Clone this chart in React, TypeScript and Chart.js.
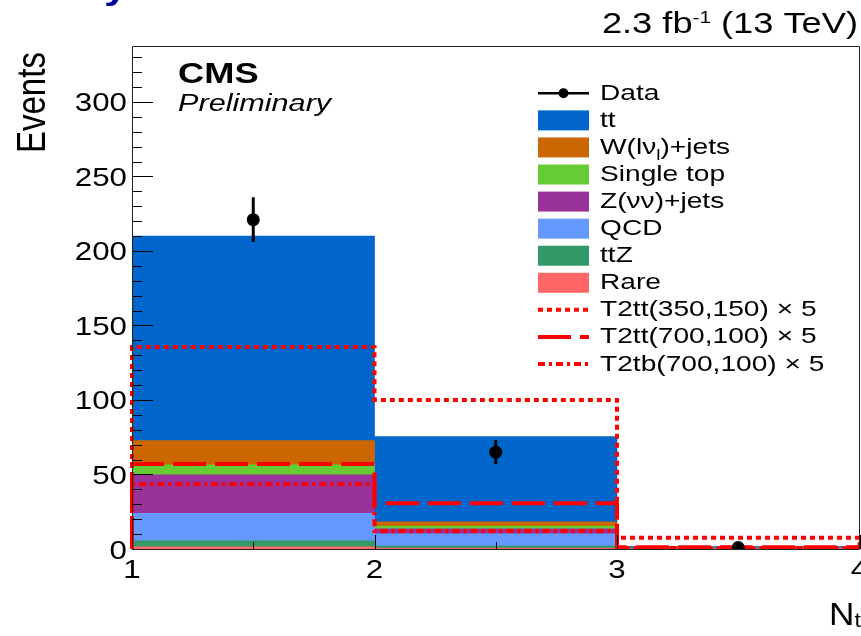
import React, { useEffect, useRef } from 'react';
import { Chart, registerables } from 'chart.js';

Chart.register(...registerables);

// ---------------- data ----------------
const binEdges = [1, 2, 3, 4];
const binCenters = [1.5, 2.5, 3.5];

const rareValues = [1.5, 0.7, 0.05];
const ttzValues = [3.9, 1.3, 0.1];
const qcdValues = [18.6, 8.1, 0.2];
const zinvValues = [25.7, 3.5, 0.2];
const singleTopValues = [6.7, 1.8, 0.05];
const wjetsValues = [16.3, 2.9, 0.1];
const ttbarValues = [137.3, 57.1, 0.9];

const dataValues = [221, 65, 1];
const dataErrors = [15, 8, 1];

const t2tt350Values = [135.6, 100, 7.5];
const t2tt700Values = [57, 30.7, 1.2];
const t2tb700Values = [43.4, 12, 0.6];

const yTickValues = [0, 50, 100, 150, 200, 250, 300];
const xTickValues = [1, 2, 3, 4];
const yMax = 337.5;

// ---------------- styling helpers ----------------
const FONT = "'Liberation Sans', Arial, Helvetica, sans-serif";
const SX = 1.25;
const CANVAS_W = 866;

type Piece = { text: string; mode: 'n' | 'sub' | 'sup' };
function parseRich(s: string): Piece[] {
  const out: Piece[] = [];
  const re = /([_^])\{([^}]*)\}/g;
  let last = 0;
  let m: RegExpExecArray | null;
  while ((m = re.exec(s))) {
    if (m.index > last) out.push({ text: s.slice(last, m.index), mode: 'n' });
    out.push({ text: m[2], mode: m[1] === '_' ? 'sub' : 'sup' });
    last = re.lastIndex;
  }
  if (last < s.length) out.push({ text: s.slice(last), mode: 'n' });
  return out;
}

type RichOpts = {
  align?: 'left' | 'right';
  weight?: string;
  style?: string;
  subScale?: number;
  subShift?: number;
  supScale?: number;
  supShift?: number;
  color?: string;
  sx?: number;
};

function drawRich(ctx: CanvasRenderingContext2D, s: string, x: number, y: number, size: number, opts: RichOpts = {}) {
  const pieces = parseRich(s);
  const sx = opts.sx ?? SX;
  const fontFor = (p: Piece) => {
    const sz = p.mode === 'n' ? size : p.mode === 'sub' ? size * (opts.subScale ?? 0.65) : size * (opts.supScale ?? 0.6);
    return `${opts.style ?? 'normal'} ${opts.weight ?? 'normal'} ${sz}px ${FONT}`;
  };
  ctx.save();
  let total = 0;
  const widths = pieces.map((p) => {
    ctx.font = fontFor(p);
    const w = ctx.measureText(p.text).width * sx;
    total += w;
    return w;
  });
  let cx = opts.align === 'right' ? x - total : x;
  ctx.fillStyle = opts.color ?? '#000';
  ctx.textAlign = 'left';
  ctx.textBaseline = 'alphabetic';
  pieces.forEach((p, i) => {
    ctx.font = fontFor(p);
    const dy = p.mode === 'sub' ? size * (opts.subShift ?? 0.25) : p.mode === 'sup' ? -size * (opts.supShift ?? 0.4) : 0;
    ctx.save();
    ctx.translate(cx, y + dy);
    ctx.scale(sx, 1);
    ctx.fillText(p.text, 0, 0);
    ctx.restore();
    cx += widths[i];
  });
  ctx.restore();
}

function outline(vals: number[]) {
  const pts: { x: number; y: number }[] = [{ x: binEdges[0], y: 0 }];
  vals.forEach((v, i) => {
    pts.push({ x: binEdges[i], y: v });
    pts.push({ x: binEdges[i + 1], y: v });
  });
  pts.push({ x: binEdges[binEdges.length - 1], y: 0 });
  return pts;
}

function barSet(label: string, vals: number[], color: string, rank: number) {
  return {
    type: 'bar',
    label,
    data: binCenters.map((x, i) => ({ x, y: vals[i] })),
    backgroundColor: color,
    borderWidth: 0,
    categoryPercentage: 1,
    barPercentage: 1,
    stack: 'bkg',
    xAxisID: 'x',
    yAxisID: 'y',
    order: 2,
    legendRank: rank,
    legendKind: 'box',
  } as any;
}

function sigSet(label: string, vals: number[], dash: number[], rank: number) {
  return {
    type: 'line',
    label,
    data: outline(vals),
    borderColor: '#ff0000',
    borderWidth: 4,
    borderDash: dash,
    borderCapStyle: 'butt',
    borderJoinStyle: 'miter',
    pointRadius: 0,
    fill: false,
    tension: 0,
    xAxisID: 'x',
    yAxisID: 'y2',
    clip: false,
    order: 1,
    legendRank: rank,
    legendKind: 'line',
  } as any;
}

const decorPlugin = {
  id: 'cmsDecor',
  afterDatasetsDraw(chart: any) {
    const ctx: CanvasRenderingContext2D = chart.ctx;
    const { left, right, top, bottom } = chart.chartArea;
    const xs = chart.scales.x;
    const ys = chart.scales.y;
    const y2 = chart.scales.y2;

    // error bars
    ctx.save();
    ctx.beginPath();
    ctx.rect(left, top, right - left, bottom - top);
    ctx.clip();
    ctx.strokeStyle = '#000';
    ctx.lineWidth = 3;
    dataValues.forEach((v, i) => {
      const px = xs.getPixelForValue(binCenters[i]);
      ctx.beginPath();
      ctx.moveTo(px, y2.getPixelForValue(Math.max(0, v - dataErrors[i])));
      ctx.lineTo(px, y2.getPixelForValue(v + dataErrors[i]));
      ctx.stroke();
    });
    ctx.restore();

    // ticks
    ctx.save();
    ctx.strokeStyle = '#000';
    ctx.lineWidth = 1;
    const yStep = yTickValues[1] - yTickValues[0];
    const yMinor = yStep / 5;
    for (let k = 0; k * yMinor <= yMax; k++) {
      const py = Math.round(ys.getPixelForValue(k * yMinor)) + 0.5;
      const len = k % 5 === 0 ? 21 : 10;
      ctx.beginPath();
      ctx.moveTo(left, py);
      ctx.lineTo(left + len, py);
      ctx.stroke();
    }
    const xFirst = xTickValues[0];
    const xLast = xTickValues[xTickValues.length - 1];
    for (let k = 0; xFirst + k * 0.5 <= xLast; k++) {
      const px = Math.round(xs.getPixelForValue(xFirst + k * 0.5)) + 0.5;
      const len = k % 2 === 0 ? 14 : 7;
      ctx.beginPath();
      ctx.moveTo(px, bottom);
      ctx.lineTo(px, bottom - len);
      ctx.stroke();
    }
    // frame
    ctx.strokeStyle = '#222';
    ctx.beginPath();
    ctx.moveTo(Math.round(left) + 0.5, Math.round(top) + 0.5);
    ctx.lineTo(Math.round(left) + 0.5, Math.round(bottom) + 0.5);
    ctx.lineTo(Math.round(right) - 0.5, Math.round(bottom) + 0.5);
    ctx.lineTo(Math.round(right) - 0.5, Math.round(top) + 0.5);
    ctx.closePath();
    ctx.stroke();
    ctx.restore();
  },
  afterDraw(chart: any) {
    const ctx: CanvasRenderingContext2D = chart.ctx;
    const { bottom } = chart.chartArea;
    const xs = chart.scales.x;
    const ys = chart.scales.y;

    // y tick labels
    yTickValues.forEach((v) => {
      const py = ys.getPixelForValue(v);
      drawRich(ctx, String(v), 127, py + 9.5, 25, { align: 'right' });
    });
    // x tick labels
    xTickValues.forEach((v) => {
      const px = xs.getPixelForValue(v);
      ctx.save();
      ctx.font = `25px ${FONT}`;
      const w = ctx.measureText(String(v)).width * SX;
      ctx.restore();
      drawRich(ctx, String(v), px - w / 2, bottom + 29, 25);
    });

    // axis titles
    ctx.save();
    ctx.fillStyle = '#000';
    ctx.font = `33px ${FONT}`;
    ctx.textAlign = 'left';
    ctx.textBaseline = 'alphabetic';
    ctx.translate(45, 153);
    ctx.scale(SX, 1);
    ctx.rotate(-Math.PI / 2);
    ctx.fillText('Events', 0, 0);
    ctx.restore();

    drawRich(ctx, 'N_{t}', 829, 625, 32, { sx: 1.1, subScale: 0.65, subShift: 0.06 });

    // header texts
    drawRich(ctx, 'y', 104, -1, 34, { weight: 'bold', color: '#000099' });
    drawRich(ctx, '2.3 fb^{-1} (13 TeV)', 858, 33, 29, { align: 'right', supScale: 0.57, supShift: 0.36 });
    drawRich(ctx, 'CMS', 178, 83, 29, { weight: 'bold' });
    drawRich(ctx, 'Preliminary', 178, 111, 24.5, { style: 'italic' });

    // legend
    const items = chart.data.datasets
      .map((d: any) => d)
      .filter((d: any) => d.legendRank != null)
      .sort((a: any, b: any) => a.legendRank - b.legendRank);
    const x0 = 538;
    const boxW = 51;
    const textX = 600;
    const firstY = 93.3;
    const step = 27.07;
    items.forEach((d: any, i: number) => {
      const cy = firstY + i * step;
      ctx.save();
      if (d.legendKind === 'box') {
        ctx.fillStyle = d.backgroundColor;
        ctx.fillRect(x0, cy - 10, boxW, 20);
      } else if (d.legendKind === 'line') {
        ctx.strokeStyle = d.borderColor;
        ctx.lineWidth = d.borderWidth;
        ctx.setLineDash(d.borderDash || []);
        ctx.beginPath();
        ctx.moveTo(x0, cy);
        ctx.lineTo(x0 + boxW, cy);
        ctx.stroke();
      } else if (d.legendKind === 'data') {
        ctx.strokeStyle = '#000';
        ctx.lineWidth = 2.5;
        ctx.beginPath();
        ctx.moveTo(x0, cy);
        ctx.lineTo(x0 + boxW, cy);
        ctx.stroke();
        ctx.fillStyle = '#000';
        ctx.beginPath();
        ctx.arc(x0 + boxW / 2, cy, 5, 0, Math.PI * 2);
        ctx.fill();
      }
      ctx.restore();
      drawRich(ctx, d.label, textX, cy + 6.5, 22.5, { subScale: 0.68, subShift: 0.27 });
    });
  },
};

export default function App() {
  const ref = useRef<HTMLCanvasElement>(null);

  useEffect(() => {
    if (!ref.current) return;
    const datasets: any[] = [
      {
        type: 'line',
        label: 'Data',
        data: binCenters.map((x, i) => ({ x, y: dataValues[i] })),
        showLine: false,
        pointRadius: 6.5,
        pointHoverRadius: 6.5,
        pointBackgroundColor: '#000',
        pointBorderColor: '#000',
        pointBorderWidth: 0,
        xAxisID: 'x',
        yAxisID: 'y2',
        clip: 0,
        order: 0,
        legendRank: 0,
        legendKind: 'data',
      },
      sigSet('T2tt(350,150) × 5', t2tt350Values, [5, 4], 8),
      sigSet('T2tt(700,100) × 5', t2tt700Values, [33, 9], 9),
      sigSet('T2tb(700,100) × 5', t2tb700Values, [7, 4, 3, 4], 10),
      barSet('Rare', rareValues, '#ff6666', 7),
      barSet('ttZ', ttzValues, '#339966', 6),
      barSet('QCD', qcdValues, '#6699ff', 5),
      barSet('Z(νν)+jets', zinvValues, '#993399', 4),
      barSet('Single top', singleTopValues, '#66cc33', 3),
      barSet('W(lν_{l})+jets', wjetsValues, '#cc6600', 2),
      barSet('tt', ttbarValues, '#0066cc', 1),
    ];

    const chart = new Chart(ref.current, {
      type: 'bar',
      data: { datasets },
      options: {
        responsive: false,
        animation: false,
        devicePixelRatio: 1,
        layout: { padding: { left: 132, top: 46, right: 0, bottom: 87 } },
        plugins: {
          legend: { display: false },
          tooltip: { enabled: false },
        },
        events: [],
        scales: {
          x: {
            type: 'linear',
            min: binEdges[0],
            max: binEdges[binEdges.length - 1],
            offset: false,
            stacked: true,
            display: false,
            ticks: { stepSize: 1 },
          },
          y: {
            type: 'linear',
            min: 0,
            max: yMax,
            stacked: true,
            display: false,
          },
          y2: {
            type: 'linear',
            min: 0,
            max: yMax,
            stacked: false,
            display: false,
          },
        },
      } as any,
      plugins: [decorPlugin],
    } as any);

    return () => chart.destroy();
  }, []);

  return (
    <div
      style={{
        position: 'absolute',
        left: 0,
        top: 0,
        width: 861,
        height: 636,
        overflow: 'hidden',
        background: '#fff',
      }}
    >
      <canvas
        ref={ref}
        width={CANVAS_W}
        height={636}
        style={{ display: 'block', width: CANVAS_W, height: 636 }}
      />
    </div>
  );
}
